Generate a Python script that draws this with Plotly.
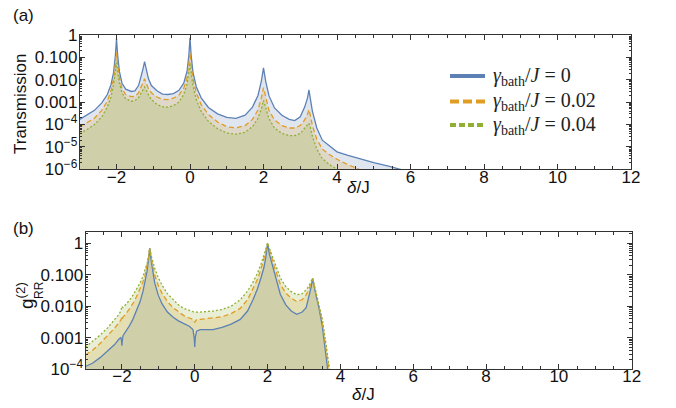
import plotly.graph_objects as go

# ---------------- data: panel (a) transmission ----------------
delta_T = [-3, -2.8, -2.6, -2.4, -2.25, -2.15, -2.08, -2.03, -2.0, -1.97, -1.92, -1.85, -1.75,
           -1.6, -1.5, -1.4, -1.33, -1.28, -1.236, -1.19, -1.13, -1.05, -0.9, -0.75, -0.6,
           -0.45, -0.3, -0.17, -0.08, -0.03, 0, 0.03, 0.08, 0.17, 0.3, 0.5, 0.75, 1.0, 1.25,
           1.5, 1.7, 1.85, 1.94, 2.0, 2.06, 2.15, 2.3, 2.5, 2.7, 2.85, 3.0, 3.12, 3.2, 3.236,
           3.27, 3.33, 3.45, 3.6, 3.8, 4.0, 4.3, 4.6, 5.0, 5.4, 5.8, 6.2]

T_g0 = [1.7e-4, 2.6e-4, 4.3e-4, 9.3e-4, 2.2e-3, 6e-3, 0.021, 0.125, 0.7, 0.13, 0.023, 7e-3, 3.8e-3,
        3.0e-3, 3.2e-3, 5.5e-3, 0.013, 0.03, 0.065, 0.028, 0.011, 5.5e-3, 3.2e-3, 2.3e-3, 2.2e-3,
        2.4e-3, 3.4e-3, 7e-3, 0.024, 0.13, 0.75, 0.13, 0.022, 4.9e-3, 1.6e-3, 5.8e-4, 3e-4, 2.1e-4, 1.9e-4,
        2.6e-4, 6e-4, 2e-3, 8.5e-3, 0.034, 8.5e-3, 1.9e-3, 5.5e-4, 2.6e-4, 1.7e-4, 1.5e-4, 2.2e-4, 6e-4, 1.6e-3, 3.5e-3,
        1.5e-3, 4e-4, 7e-5, 2e-5, 1.1e-5, 6e-6, 4.2e-6, 3e-6, 2e-6, 1.4e-6, 9.5e-7, 6e-7]

T_g002 = [8e-5, 1.2e-4, 1.9e-4, 4.3e-4, 1.1e-3, 3.2e-3, 0.011, 0.05, 0.17, 0.052, 0.012, 4e-3, 2.2e-3,
          1.75e-3, 1.8e-3, 2.6e-3, 4.5e-3, 7.5e-3, 0.011, 7e-3, 4e-3, 2.6e-3, 1.7e-3, 1.35e-3, 1.3e-3,
          1.5e-3, 2.1e-3, 4.2e-3, 0.012, 0.05, 0.17, 0.05, 0.011, 2.6e-3, 8e-4, 2.8e-4, 1.3e-4, 8e-5, 7e-5,
          9e-5, 1.7e-4, 4.5e-4, 1.5e-3, 4.5e-3, 1.5e-3, 4.2e-4, 1.6e-4, 9e-5, 7e-5, 7e-5, 9e-5, 1.6e-4, 3e-4, 4.7e-4,
          2.8e-4, 9e-5, 2.2e-5, 8e-6, 4.5e-6, 2.8e-6, 1.6e-6, 1e-6, 6e-7, 4e-7, 3e-7, 2e-7]

T_g004 = [4e-5, 6e-5, 1e-4, 2.2e-4, 6e-4, 1.7e-3, 6e-3, 0.022, 0.057, 0.023, 7e-3, 2.6e-3, 1.4e-3,
          1.1e-3, 1.15e-3, 1.6e-3, 2.5e-3, 3.7e-3, 4.7e-3, 3.5e-3, 2.1e-3, 1.3e-3, 8e-4, 6.2e-4, 6e-4,
          7e-4, 1e-3, 2.2e-3, 6.5e-3, 0.023, 0.057, 0.022, 5.5e-3, 1.3e-3, 4e-4, 1.4e-4, 6.5e-5, 4.2e-5, 3.7e-5,
          4.5e-5, 8e-5, 1.9e-4, 5e-4, 1.2e-3, 5e-4, 1.8e-4, 7e-5, 4e-5, 3.2e-5, 3.2e-5, 4e-5, 6.5e-5, 9.5e-5, 1.15e-4,
          8e-5, 3e-5, 8e-6, 3e-6, 1.6e-6, 1e-6, 6e-7, 4e-7, 2.5e-7, 1.6e-7, 1e-7, 7e-8]

# ---------------- data: panel (b) g2_RR ----------------
delta_g = [-3, -2.8, -2.6, -2.4, -2.2, -2.08, -2.03, -2.01, -2.0, -1.99, -1.97, -1.9, -1.8, -1.7,
           -1.6, -1.5, -1.42, -1.36, -1.31, -1.27, -1.236, -1.2, -1.16, -1.1, -1.0, -0.9, -0.75,
           -0.6, -0.45, -0.3, -0.15, -0.05, -0.015, 0, 0.015, 0.05, 0.15, 0.3, 0.5, 0.75, 1.0,
           1.25, 1.45, 1.6, 1.72, 1.82, 1.9, 1.95, 2.0, 2.05, 2.1, 2.2, 2.35, 2.5, 2.65, 2.8,
           2.95, 3.06, 3.14, 3.2, 3.236, 3.27, 3.32, 3.4, 3.5, 3.6, 3.7, 3.8]

g2_g0 = [1.2e-4, 1.55e-4, 2.3e-4, 3.6e-4, 6e-4, 9e-4, 1.0e-3, 8e-4, 5.5e-4, 8e-4, 1.15e-3, 1.5e-3, 2.3e-3, 3.8e-3,
         7e-3, 0.014, 0.03, 0.06, 0.13, 0.3, 0.7, 0.3, 0.13, 0.055, 0.022, 0.012, 6.5e-3,
         4.5e-3, 3.4e-3, 2.8e-3, 2.3e-3, 1.8e-3, 1.0e-3, 5e-4, 1.0e-3, 1.6e-3, 1.8e-3, 1.8e-3, 1.8e-3, 2.1e-3, 2.7e-3,
         3.8e-3, 7e-3, 0.016, 0.035, 0.08, 0.17, 0.35, 1.0, 0.45, 0.28, 0.1, 0.024, 0.011, 7e-3, 5.5e-3,
         6.5e-3, 9e-3, 0.02, 0.042, 0.075, 0.045, 0.025, 0.01, 2.5e-3, 2.9e-4, 3.5e-5, 4e-6]

g2_g002 = [2.8e-4, 4e-4, 6.5e-4, 1.1e-3, 2e-3, 3e-3, 3.6e-3, 4.3e-3, 3.6e-3, 4e-3, 4.5e-3, 5.5e-3, 8e-3, 0.012,
           0.02, 0.035, 0.06, 0.1, 0.18, 0.35, 0.7, 0.36, 0.2, 0.1, 0.045, 0.026, 0.014,
           9e-3, 6.5e-3, 5e-3, 4.2e-3, 3.8e-3, 3.3e-3, 3.0e-3, 3.3e-3, 3.7e-3, 3.8e-3, 4.0e-3, 4.2e-3, 4.6e-3, 5.8e-3,
           8.5e-3, 0.016, 0.035, 0.07, 0.15, 0.3, 0.55, 1.0, 0.6, 0.42, 0.16, 0.05, 0.026, 0.018, 0.014,
           0.016, 0.023, 0.035, 0.055, 0.075, 0.05, 0.027, 0.012, 3.3e-3, 5e-4, 8e-5, 1e-5]

g2_g004 = [5e-4, 7.5e-4, 1.2e-3, 2e-3, 3.6e-3, 5.5e-3, 7e-3, 9e-3, 0.01, 9.5e-3, 9e-3, 0.011, 0.015, 0.022,
           0.035, 0.055, 0.09, 0.14, 0.23, 0.38, 0.7, 0.42, 0.27, 0.16, 0.08, 0.047, 0.025,
           0.016, 0.011, 8.5e-3, 7.2e-3, 6.7e-3, 6.6e-3, 6.5e-3, 6.5e-3, 6.5e-3, 6.5e-3, 6.6e-3, 7e-3, 7.8e-3, 0.01,
           0.016, 0.03, 0.058, 0.11, 0.22, 0.4, 0.65, 1.0, 0.7, 0.52, 0.22, 0.08, 0.042, 0.029, 0.023,
           0.025, 0.033, 0.045, 0.063, 0.078, 0.055, 0.032, 0.014, 4e-3, 7e-4, 1.2e-4, 1.5e-5]

legend_labels = ["<i>γ</i><sub>bath</sub>/<i>J</i> = 0",
                 "<i>γ</i><sub>bath</sub>/<i>J</i> = 0.02",
                 "<i>γ</i><sub>bath</sub>/<i>J</i> = 0.04"]

T_tickvals = [1e-6, 1e-5, 1e-4, 1e-3, 1e-2, 1e-1, 1]
T_ticktext = ["10<sup>−6</sup>", "10<sup>−5</sup>", "10<sup>−4</sup>", "0.001", "0.010", "0.100", "1"]
g_tickvals = [1e-4, 1e-3, 1e-2, 1e-1, 1]
g_ticktext = ["10<sup>−4</sup>", "0.001", "0.010", "0.100", "1"]

# ---------------- styling ----------------
colors = ["#5E81B5", "#E19C24", "#8FB032"]
fills = ["rgba(94,129,181,0.2)", "rgba(225,156,36,0.2)", "rgba(143,176,50,0.2)"]
dashes = ["solid", "5px,3px", "2px,2px"]
legend_dashes = ["solid", "9px,4px", "6px,3px"]
W, H = 676, 408

fig = go.Figure()

panels = [("x", "y", delta_T, [T_g0, T_g002, T_g004]),
          ("x2", "y2", delta_g, [g2_g0, g2_g002, g2_g004])]

for xa, ya, xs, series in panels:
    for i, ys in enumerate(series):
        fig.add_trace(go.Scatter(x=xs, y=ys, xaxis=xa, yaxis=ya, mode="lines",
                                 line=dict(width=0), fill="tozeroy", fillcolor=fills[i],
                                 showlegend=False, hoverinfo="skip"))
    for i, ys in enumerate(series):
        fig.add_trace(go.Scatter(x=xs, y=ys, xaxis=xa, yaxis=ya, mode="lines",
                                 line=dict(color=colors[i], width=1.3, dash=dashes[i]),
                                 showlegend=False))

frame = "#333333"
tickfont = dict(family="Liberation Sans, Arial", size=17, color="#111")

def xaxis_cfg(domain, anchor):
    return dict(domain=domain, anchor=anchor, range=[-3, 12], dtick=2, tick0=0,
                ticks="inside", ticklen=5, tickcolor=frame, showline=True, linecolor=frame,
                linewidth=1, mirror="ticks", showgrid=False, zeroline=False,
                tickfont=tickfont, automargin=False, ticklabelstandoff=-8,
                minor=dict(dtick=0.5, tick0=0, ticks="inside", ticklen=3, tickcolor=frame))

def yaxis_cfg(domain, anchor, rng, tv, tt):
    return dict(domain=domain, anchor=anchor, type="log", range=rng, tickmode="array",
                tickvals=tv, ticktext=tt, ticks="inside", ticklen=5, tickcolor=frame,
                showline=True, linecolor=frame, linewidth=1, mirror="ticks",
                showgrid=False, zeroline=False, tickfont=tickfont, automargin=False,
                ticklabelstandoff=-2,
                minor=dict(dtick="D1", ticks="inside", ticklen=2.5, tickcolor=frame))

fig.update_layout(
    width=W, height=H, margin=dict(l=0, r=0, t=0, b=0),
    paper_bgcolor="white", plot_bgcolor="white", showlegend=False,
    xaxis=xaxis_cfg([79.75 / W, 631 / W], "y"),
    yaxis=yaxis_cfg([1 - 169.3 / H, 1 - 35 / H], "x", [-6, 0], T_tickvals, T_ticktext),
    xaxis2=xaxis_cfg([85.5 / W, 631.7 / W], "y2"),
    yaxis2=yaxis_cfg([1 - 369 / H, 1 - 231.7 / H], "x2", [-4, 0.37], g_tickvals, g_ticktext),
)

# legend drawn as shapes + text
legend_rows_px = [76, 101.5, 125]
shapes = []
ann_font = dict(family="Liberation Sans, Arial", size=17, color="#111")
annotations = []
for i, ypx in enumerate(legend_rows_px):
    shapes.append(dict(type="line", xref="paper", yref="paper",
                       x0=450 / W, x1=485 / W, y0=1 - ypx / H, y1=1 - ypx / H,
                       line=dict(color=colors[i], width=4, dash=legend_dashes[i])))
    annotations.append(dict(x=491 / W, y=1 - ypx / H, text=legend_labels[i], xanchor="left",
                            yanchor="middle",
                            font=dict(family="Liberation Serif, DejaVu Serif", size=20, color="#222")))

annotations += [
    dict(x=23 / W, y=1 - 16 / H, text="(a)", font=ann_font),
    dict(x=23 / W, y=1 - 228 / H, text="(b)", font=ann_font),
    dict(x=20 / W, y=1 - 104 / H, text="Transmission", textangle=-90, font=ann_font),
    dict(x=358 / W, y=1 - 188 / H, text="<i>δ</i>/J", font=ann_font),
    dict(x=363 / W, y=1 - 394 / H, text="<i>δ</i>/J", font=ann_font),
    dict(x=25 / W, y=1 - 296 / H, text="g<sup>(2)</sup>", textangle=-90,
         font=dict(family="Liberation Sans, Arial", size=19, color="#111")),
    dict(x=39 / W, y=1 - 290 / H, text="RR", textangle=-90,
         font=dict(family="Liberation Sans, Arial", size=12, color="#111")),
]
for a in annotations:
    a.update(xref="paper", yref="paper", showarrow=False)
    a.setdefault("xanchor", "center")
    a.setdefault("yanchor", "middle")
fig.update_layout(annotations=annotations, shapes=shapes)

fig.write_html("out.html")
